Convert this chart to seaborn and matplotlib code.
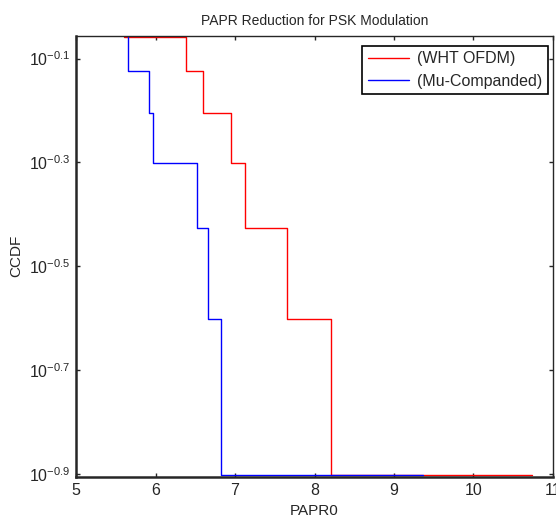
import matplotlib
matplotlib.use("Agg")
import matplotlib.pyplot as plt
import numpy as np
import pandas as pd
import seaborn as sns

# CCDF levels (8 samples) and the PAPR0 points where each step begins
ccdf = [7/8, 6/8, 5/8, 4/8, 3/8, 2/8, 1/8, 1/8]
papr_wht = [5.61, 6.38, 6.60, 6.95, 7.13, 7.65, 8.21, 10.73]
papr_mu = [5.66, 5.66, 5.92, 5.97, 6.52, 6.66, 6.83, 9.37]
series = ["(WHT OFDM)", "(Mu-Companded)"]
cores = ["#ff0000", "#0000ff"]

x_ticks = [5, 6, 7, 8, 9, 10, 11]
y_exps = [-0.9, -0.7, -0.5, -0.3, -0.1]

sns.set_style("ticks")
plt.rcParams["font.family"] = ["Liberation Sans", "DejaVu Sans"]
plt.rcParams["mathtext.default"] = "regular"
plt.rcParams["axes.unicode_minus"] = False
plt.rcParams["xtick.direction"] = "in"
plt.rcParams["ytick.direction"] = "in"

df = pd.concat([
    pd.DataFrame({"PAPR0": papr_wht, "CCDF": ccdf, "serie": series[0]}),
    pd.DataFrame({"PAPR0": papr_mu, "CCDF": ccdf, "serie": series[1]}),
], ignore_index=True)

fig = plt.figure(figsize=(5.56, 5.21), dpi=100)
ax = fig.add_axes([0.1367, 0.0845, 0.8579, 0.847])

for nome, cor in zip(series, cores):
    sub = df[df["serie"] == nome]
    sns.lineplot(data=sub, x="PAPR0", y="CCDF", ax=ax, color=cor,
                 estimator=None, sort=False, drawstyle="steps-post",
                 linewidth=1.0, label=nome, clip_on=False)

ax.set_yscale("log")
ax.set_xlim(5, 11)
ax.set_ylim(10 ** -0.906, 10 ** -0.056)
ax.set_xticks(x_ticks)
ax.set_xticklabels([str(t) for t in x_ticks], fontsize=11.5)
ax.set_yticks([10 ** e for e in y_exps])
ax.set_yticklabels([f"$10^{{{e}}}$" for e in y_exps], fontsize=11.5)
ax.yaxis.set_minor_locator(matplotlib.ticker.NullLocator())
ax.tick_params(top=True, right=True, length=3, width=1, pad=4)

ax.set_title("PAPR Reduction for PSK Modulation", fontsize=10, pad=8)
ax.set_xlabel("PAPR0", fontsize=11, labelpad=5)
ax.set_ylabel("CCDF", fontsize=11, labelpad=4)

for lado in ["left", "bottom"]:
    ax.spines[lado].set_linewidth(1.8)
for lado in ["top", "right"]:
    ax.spines[lado].set_linewidth(1.0)

leg = ax.legend(loc="upper right", bbox_to_anchor=(0.99, 0.977), fontsize=11.5,
                fancybox=False, framealpha=1, edgecolor="black",
                handlelength=2.6, borderpad=0.35, labelspacing=0.45,
                handletextpad=0.5, borderaxespad=0)
leg.get_frame().set_linewidth(1.2)

fig.savefig("out.png", dpi=100)
